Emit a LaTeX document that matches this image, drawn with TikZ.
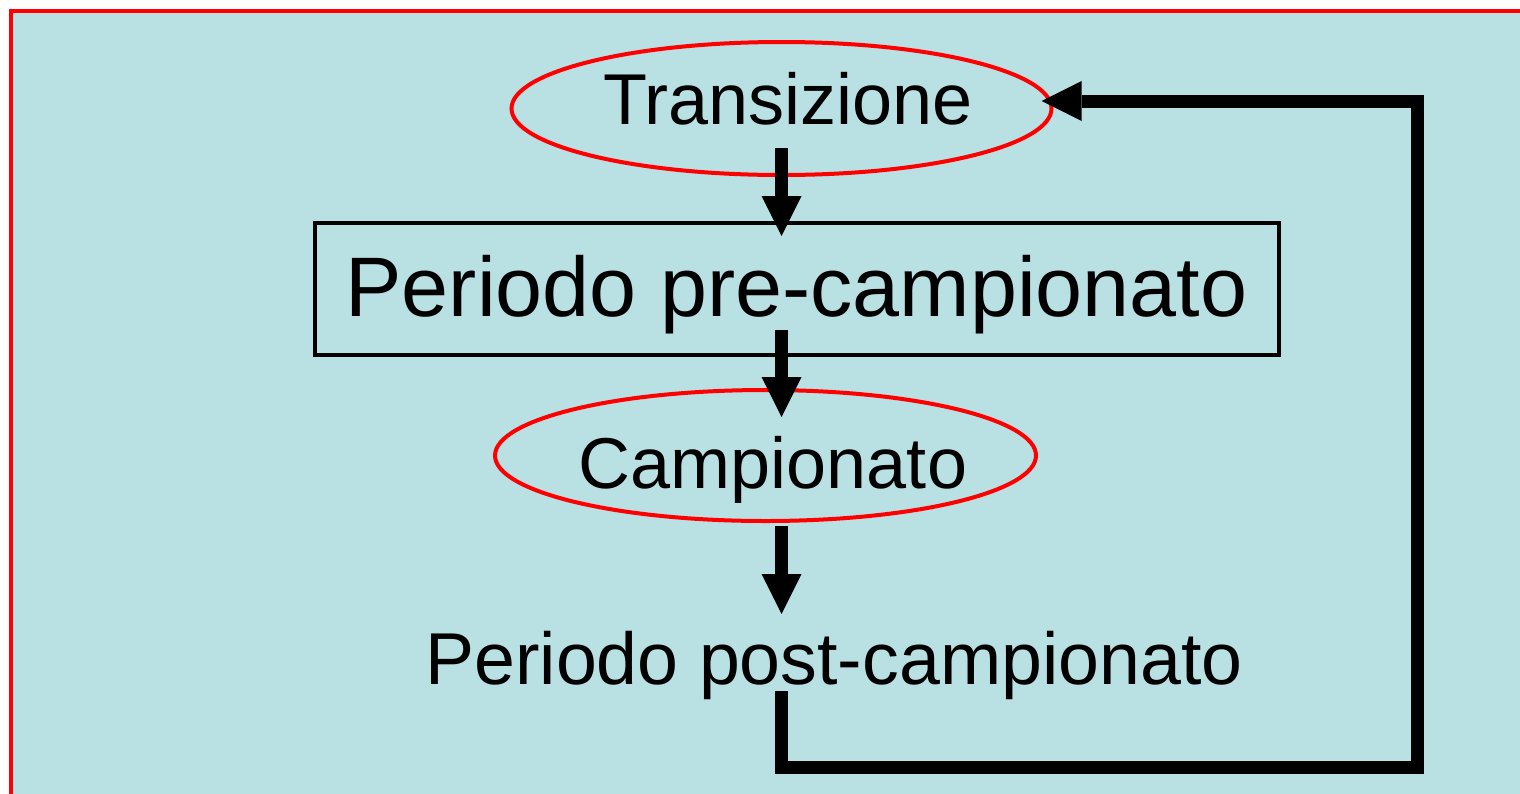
\documentclass[tikz,border=0pt]{standalone}
\usepackage{fontspec}
\setmainfont{Liberation Sans}
\usetikzlibrary{arrows.meta,calc,shapes.geometric}
\definecolor{sfondo}{RGB}{185,224,227}
\tikzset{
    ovale/.style={ellipse, draw=red, line width=4pt, inner sep=0pt},
    scatola/.style={rectangle, draw=black, line width=4pt, inner sep=0pt},
    testo/.style={inner sep=0pt, font=\fontsize{72}{80}\selectfont},
    freccia/.style={line width=13pt, -{Triangle[length=40pt,width=40pt,line width=0pt]}},
    ritorno/.style={line width=13pt, line join=miter, -{Triangle[length=40pt,width=40pt,line width=0pt]}}
}
\begin{document}
\begin{tikzpicture}[x=1pt,y=-1pt]
    \useasboundingbox (0,0) rectangle (1520,793);
    \clip (0,0) rectangle (1520,793);
    % background and frame
    \fill[white] (0,0) rectangle (1520,793);
    \draw[red, line width=3.7pt, fill=sfondo] (10.8,10.8) rectangle (1540,810);

    % shapes
    \node[ovale, minimum width=540pt, minimum height=133pt] (trans) at (781.5,108.5) {};
    \node[scatola, minimum width=964pt, minimum height=132pt] (pre) at (797,289) {};
    \node[ovale, minimum width=541pt, minimum height=131pt] (camp) at (765.5,455.5) {};

    % texts
    \node[testo, anchor=base] (transt) at (788,124) {Transizione};
    \node[testo, anchor=base, font=\fontsize{84.5}{95}\selectfont] (pret) at (796.5,316) {Periodo pre-campionato};
    \node[testo, anchor=base] (campt) at (773,488) {Campionato};
    \node[testo, anchor=base, font=\fontsize{73.5}{82}\selectfont] (post) at (834,684) {Periodo post-campionato};

    % arrows
    \draw[freccia] ([yshift=29pt]trans.south) -- ([yshift=-15pt]trans.south |- pre.north);
    \draw[freccia] ([yshift=27pt]trans.south |- pre.south) -- ([yshift=-29pt]trans.south |- camp.north);
    \draw[freccia] ([yshift=-3pt]trans.south |- camp.south) -- ([yshift=-91pt]trans.south |- camp.south);

    % back to the start
    \coordinate (giro) at (1417,767);
    \draw[ritorno] ([yshift=-7pt]trans.south |- post.base) |- (giro) |- ([shift={(-12pt,7.5pt)}]trans.east);
\end{tikzpicture}
\end{document}
